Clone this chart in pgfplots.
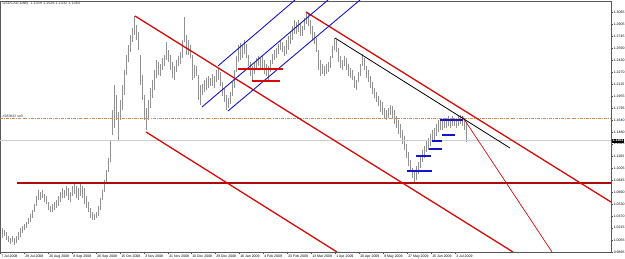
\documentclass[border=0pt]{standalone}
\usepackage{pgfplots}
\usepackage{pgfplotstable}
\pgfplotsset{compat=1.18}
\usepackage{fontspec}
\setmainfont{Liberation Sans}
\definecolor{barcol}{RGB}{145,145,145}
\definecolor{chred}{RGB}{215,10,10}
\definecolor{maroonl}{RGB}{175,10,10}
\definecolor{chblue}{RGB}{20,20,200}
\definecolor{ddot}{RGB}{205,140,90}
\definecolor{curp}{RGB}{205,205,205}
\pgfplotstableread{
x lo hi
2 1.0080 1.0212
4 1.0106 1.0186
6 1.0053 1.0159
8 1.0027 1.0106
10 1.0001 1.0080
12 1.0027 1.0106
14 0.9987 1.0080
16 1.0014 1.0106
18 1.0053 1.0159
20 1.0093 1.0212
22 1.0146 1.0238
24 1.0185 1.0265
26 1.0212 1.0291
28 1.0265 1.0344
30 1.0291 1.0397
32 1.0344 1.0449
34 1.0423 1.0529
36 1.0503 1.0635
38 1.0582 1.0714
40 1.0582 1.0688
42 1.0608 1.0714
44 1.0555 1.0661
46 1.0529 1.0635
48 1.0449 1.0555
50 1.0423 1.0503
52 1.0423 1.0529
54 1.0449 1.0555
56 1.0476 1.0582
58 1.0503 1.0635
60 1.0555 1.0688
62 1.0608 1.0740
64 1.0608 1.0714
66 1.0635 1.0767
68 1.0582 1.0740
70 1.0555 1.0688
72 1.0635 1.0767
74 1.0661 1.0793
76 1.0608 1.0767
78 1.0582 1.0740
80 1.0635 1.0793
82 1.0608 1.0767
84 1.0529 1.0740
86 1.0476 1.0635
88 1.0423 1.0555
90 1.0344 1.0476
92 1.0317 1.0423
94 1.0317 1.0397
96 1.0344 1.0423
98 1.0371 1.0503
100 1.0449 1.0608
102 1.0582 1.0714
104 1.0688 1.0846
106 1.0820 1.0978
108 1.0952 1.1137
110 1.1084 1.1374
112 1.1440 1.1770
114 1.1532 1.2101
116 1.1638 1.1969
118 1.1374 1.1744
120 1.1638 1.1903
122 1.1770 1.2101
124 1.1969 1.2299
126 1.2233 1.2497
128 1.2404 1.2629
130 1.2537 1.2761
132 1.2669 1.2854
134 1.2761 1.3012
136 1.2695 1.2893
138 1.2563 1.2801
140 1.2101 1.2497
142 1.1903 1.2233
144 1.1638 1.1969
146 1.1506 1.1797
148 1.1638 1.1903
150 1.1797 1.2061
152 1.1929 1.2167
154 1.2035 1.2299
156 1.2193 1.2431
158 1.2233 1.2404
160 1.2220 1.2378
162 1.2299 1.2457
164 1.2352 1.2497
166 1.2431 1.2669
168 1.2404 1.2563
170 1.2299 1.2497
172 1.2193 1.2404
174 1.2167 1.2352
176 1.2272 1.2431
178 1.2352 1.2484
180 1.2378 1.2537
182 1.2457 1.2695
184 1.2669 1.2999
186 1.2497 1.2761
188 1.2497 1.2695
190 1.2457 1.2629
192 1.2167 1.2497
194 1.2193 1.2365
196 1.2220 1.2352
198 1.1903 1.2233
200 1.1837 1.2101
202 1.1969 1.2114
204 1.2008 1.2167
206 1.2035 1.2193
208 1.2061 1.2220
210 1.2088 1.2193
212 1.2088 1.2246
214 1.2061 1.2220
216 1.2140 1.2299
218 1.2167 1.2325
220 1.2088 1.2272
222 1.1955 1.2140
224 1.1876 1.2061
226 1.1770 1.1969
228 1.1797 1.1929
230 1.1850 1.2008
232 1.1955 1.2140
234 1.2061 1.2299
236 1.2272 1.2484
238 1.2404 1.2629
240 1.2431 1.2655
242 1.2457 1.2616
244 1.2510 1.2695
246 1.2457 1.2642
248 1.2352 1.2497
250 1.2220 1.2404
252 1.2167 1.2352
254 1.2246 1.2404
256 1.2299 1.2457
258 1.2352 1.2484
260 1.2325 1.2457
262 1.2299 1.2497
264 1.2246 1.2431
266 1.2220 1.2378
268 1.2167 1.2352
270 1.2272 1.2431
272 1.2378 1.2510
274 1.2431 1.2563
276 1.2457 1.2589
278 1.2510 1.2642
280 1.2563 1.2695
282 1.2537 1.2669
284 1.2484 1.2616
286 1.2510 1.2695
288 1.2563 1.2748
290 1.2642 1.2801
292 1.2695 1.2880
294 1.2774 1.2959
296 1.2774 1.2933
298 1.2801 1.2959
300 1.2748 1.2906
302 1.2748 1.2880
304 1.2827 1.2986
306 1.2906 1.3065
308 1.2880 1.3038
310 1.2774 1.2959
312 1.2695 1.2880
314 1.2642 1.2801
316 1.2537 1.2721
318 1.2299 1.2563
320 1.2220 1.2431
322 1.2246 1.2378
324 1.2220 1.2352
326 1.2246 1.2378
328 1.2272 1.2404
330 1.2325 1.2484
332 1.2457 1.2616
334 1.2563 1.2721
336 1.2537 1.2695
338 1.2404 1.2589
340 1.2325 1.2484
342 1.2299 1.2431
344 1.2352 1.2484
346 1.2299 1.2457
348 1.2220 1.2378
350 1.2193 1.2325
352 1.2167 1.2299
354 1.2061 1.2220
356 1.2035 1.2167
358 1.2140 1.2272
360 1.2220 1.2378
362 1.2352 1.2510
364 1.2299 1.2457
366 1.2193 1.2352
368 1.2140 1.2299
370 1.2061 1.2220
372 1.1982 1.2140
374 1.1929 1.2061
376 1.1876 1.2008
378 1.1823 1.1955
380 1.1744 1.1903
382 1.1704 1.1876
384 1.1665 1.1797
386 1.1638 1.1770
388 1.1665 1.1797
390 1.1704 1.1837
392 1.1665 1.1823
394 1.1585 1.1770
396 1.1532 1.1691
398 1.1454 1.1638
400 1.1401 1.1585
402 1.1321 1.1506
404 1.1242 1.1427
406 1.1137 1.1321
408 1.1030 1.1216
410 1.0952 1.1110
412 1.0872 1.1004
414 1.0819 1.0952
416 1.0845 1.1030
418 1.0925 1.1083
420 1.1004 1.1163
422 1.1084 1.1242
424 1.1137 1.1295
426 1.1216 1.1374
428 1.1242 1.1401
430 1.1295 1.1454
432 1.1348 1.1506
434 1.1374 1.1532
436 1.1427 1.1585
438 1.1480 1.1638
440 1.1506 1.1665
442 1.1506 1.1638
444 1.1532 1.1665
446 1.1532 1.1638
448 1.1559 1.1691
450 1.1532 1.1665
452 1.1559 1.1691
454 1.1559 1.1665
456 1.1532 1.1638
458 1.1559 1.1691
460 1.1585 1.1704
462 1.1559 1.1691
464 1.1506 1.1665
466 1.1348 1.1612
}\bars
\begin{document}
\begin{tikzpicture}
\begin{axis}[
  at={(0pt,0pt)}, anchor=south west,
  width=611pt, height=251pt, scale only axis,
  xmin=0, xmax=611, ymin=0.9895, ymax=1.3210,
  axis line style={draw=black!65, line width=0.5pt},
  xtick pos=bottom, ytick pos=right, yticklabel pos=right,
  tick align=outside, major tick length=2pt,
  tick style={black!70, line width=0.4pt},
  xtick={0,24,48,72,96,120,144,168,191,215,239,263,287,311,335,359,383,407,431,455},
  xticklabels={7 Jul 2008,29 Jul 2008,20 Aug 2008,8 Sep 2008,26 Sep 2008,15 Oct 2008,3 Nov 2008,21 Nov 2008,10 Dec 2008,29 Dec 2008,16 Jan 2009,4 Feb 2009,23 Feb 2009,13 Mar 2009,1 Apr 2009,20 Apr 2009,8 May 2009,27 May 2009,15 Jun 2009,3 Jul 2009},
  xticklabel style={anchor=north west, font=\fontsize{3.5}{4}\selectfont, inner sep=0.6pt, xshift=0.5pt},
  ytick={0.9895,1.0055,1.0215,1.0370,1.0530,1.0690,1.0845,1.1005,1.1165,1.1325,1.1480,1.1640,1.1795,1.1955,1.2115,1.2270,1.2430,1.2590,1.2745,1.2905,1.3065},
  yticklabels={0.9895,1.0055,1.0215,1.0370,1.0530,1.0690,1.0845,1.1005,1.1165,1.1325,1.1480,1.1640,1.1795,1.1955,1.2115,1.2270,1.2430,1.2590,1.2745,1.2905,1.3065},
  yticklabel style={anchor=west, font=\fontsize{3.5}{4}\selectfont, inner sep=0.6pt},
  clip=true,
]
% price bars
\addplot[draw=none, mark=none, forget plot,
  error bars/.cd, y dir=plus, y explicit, error mark=none,
  error bar style={draw=barcol, line width=0.85pt, solid}]
  table[x=x, y=lo, y error expr=\thisrow{hi}-\thisrow{lo}] {\bars};
% current price line
\addplot[draw=curp, line width=0.6pt] coordinates {(0,1.1364) (611,1.1364)};
% sell order dash-dot
\addplot[draw=ddot, line width=0.6pt, dash pattern=on 3pt off 1.2pt on 0.7pt off 1.2pt] coordinates {(0,1.1665) (611,1.1665)};
% horizontal support
\addplot[draw=maroonl, line width=1.7pt] coordinates {(17,1.0802) (611,1.0802)};
% red channel lines
\addplot[draw=chred, line width=1.3pt] coordinates {(135,1.3012) (513,0.9895)};
\addplot[draw=chred, line width=1.3pt] coordinates {(146,1.1480) (337,0.9895)};
\addplot[draw=chred, line width=1.3pt] coordinates {(306,1.3065) (611,1.0555)};
\addplot[draw=chred, line width=0.7pt] coordinates {(462,1.1691) (552,0.9895)};
% black trend line
\addplot[draw=black, line width=0.8pt] coordinates {(335,1.2721) (510,1.1268)};
% blue channel
\addplot[draw=chblue, line width=0.9pt] coordinates {(218,1.2352) (295,1.3223)};
\addplot[draw=chblue, line width=0.9pt] coordinates {(202,1.1810) (328,1.3223)};
\addplot[draw=chblue, line width=0.9pt] coordinates {(228,1.1757) (360,1.3223)};
% red short horizontals
\addplot[draw=chred, line width=1.1pt] coordinates {(238,1.2312) (283,1.2312)};
\addplot[draw=chred, line width=1.1pt] coordinates {(252,1.2154) (280,1.2154)};
% blue short horizontals
\addplot[draw=chblue, line width=1.2pt] coordinates {(440,1.1638) (463,1.1638)};
\addplot[draw=chblue, line width=1.2pt] coordinates {(442,1.1440) (455,1.1440)};
\addplot[draw=chblue, line width=1.2pt] coordinates {(432,1.1361) (442,1.1361)};
\addplot[draw=chblue, line width=1.2pt] coordinates {(429,1.1255) (442,1.1255)};
\addplot[draw=chblue, line width=1.2pt] coordinates {(416,1.1163) (431,1.1163)};
\addplot[draw=chblue, line width=1.2pt] coordinates {(407,1.0964) (432,1.0964)};
\coordinate (pb) at (axis cs:611,1.1364);
\coordinate (tl) at (axis cs:2,1.3175);
\coordinate (sl) at (axis cs:2,1.1665);
\end{axis}
\node[anchor=west, fill=black, text=white, inner sep=0.6pt, font=\fontsize{3.5}{4}\selectfont\bfseries] at ([xshift=0.8pt]pb) {1.1364};
\node[anchor=west, inner sep=0.5pt, font=\fontsize{3.8}{4}\selectfont, text=black!80] at (tl) {USDCAD,Daily\ \ 1.1339 1.1526 1.1332 1.1364};
\node[anchor=south west, inner sep=0.5pt, font=\fontsize{3.5}{4}\selectfont, text=black!80] at (sl) {\#383842 sell};
\pgfresetboundingbox
\useasboundingbox (0pt,-7pt) rectangle (625pt,252pt);
\end{tikzpicture}
\end{document}
